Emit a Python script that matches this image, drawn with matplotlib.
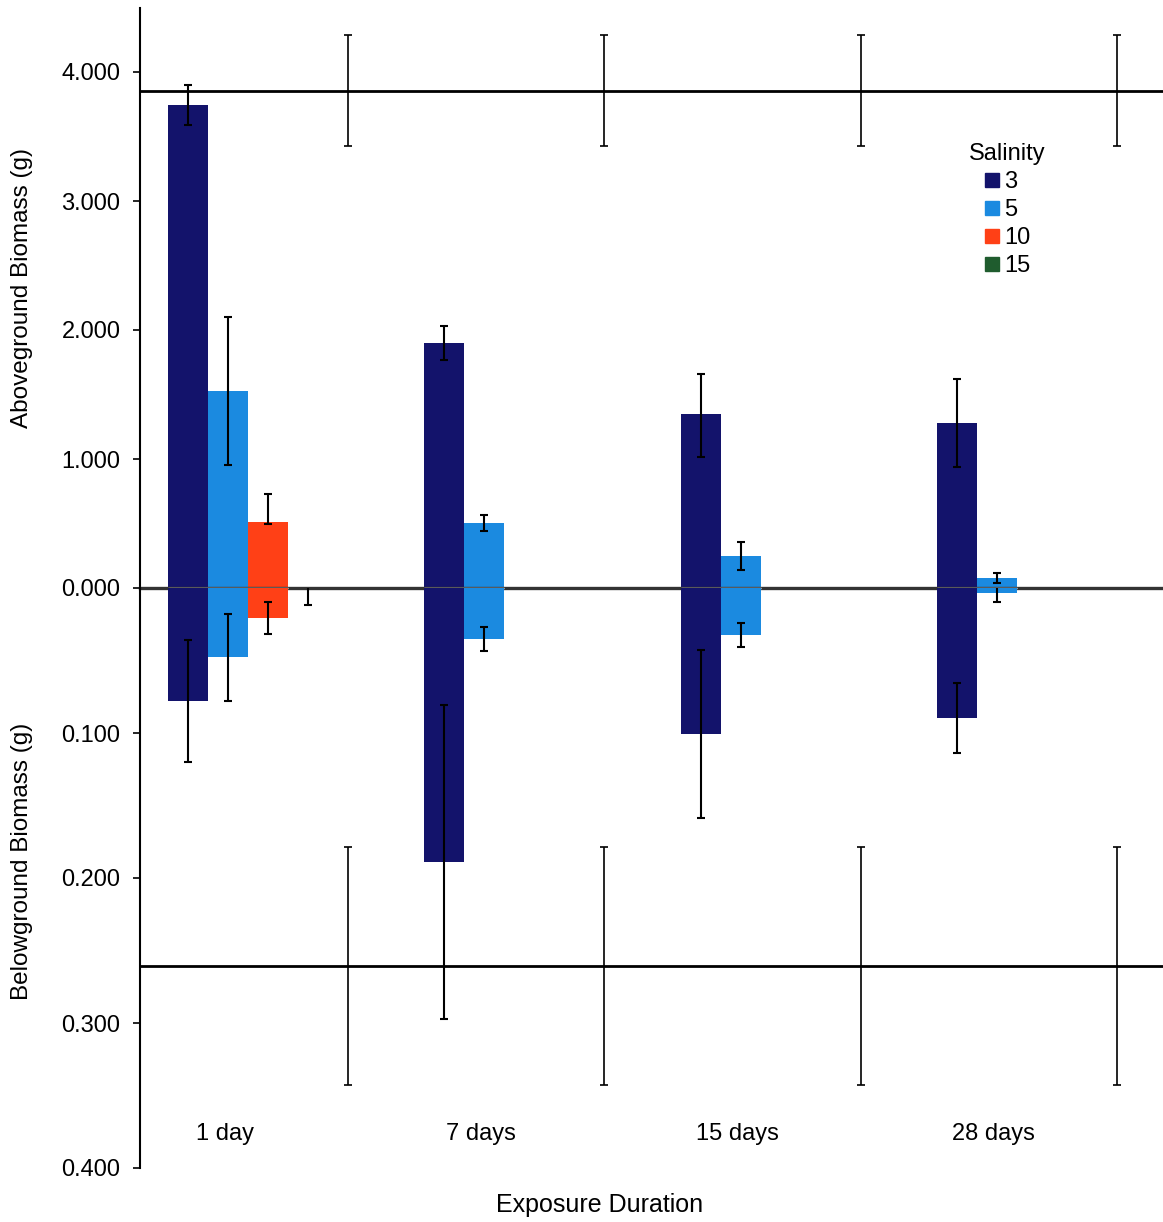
import matplotlib
matplotlib.use("Agg")
import matplotlib.pyplot as plt
from matplotlib.lines import Line2D
import numpy as np

plt.rcParams['font.family'] = ['Liberation Sans', 'DejaVu Sans']

# ---------------- data ----------------
durations = ["1 day", "7 days", "15 days", "28 days"]
salinities = ["3", "5", "10", "15"]
colors = ["#13136b", "#1b8ae0", "#ff4016", "#1f5c2e"]

# aboveground biomass (g): rows = salinity, cols = duration
above_mean = [
    [3.744, 1.899, 1.349, 1.279],
    [1.527, 0.504, 0.248, 0.078],
    [0.512, 0.0, 0.0, 0.0],
    [0.0, 0.0, 0.0, 0.0],
]
above_err_lo = [
    [0.155, 0.132, 0.33, 0.34],
    [0.57, 0.06, 0.11, 0.04],
    [0.015, 0.0, 0.0, 0.0],
    [0.0, 0.0, 0.0, 0.0],
]
above_err_hi = [
    [0.155, 0.132, 0.31, 0.34],
    [0.57, 0.06, 0.11, 0.04],
    [0.217, 0.0, 0.0, 0.0],
    [0.0, 0.0, 0.0, 0.0],
]
# belowground biomass (g)
below_mean = [
    [0.0779, 0.189, 0.1007, 0.0897],
    [0.0476, 0.0352, 0.0324, 0.0034],
    [0.0207, 0.0, 0.0, 0.0],
    [0.0, 0.0, 0.0, 0.0],
]
below_err = [
    [0.042, 0.108, 0.058, 0.024],
    [0.030, 0.008, 0.008, 0.006],
    [0.011, 0.0, 0.0, 0.0],
    [0.012, 0.0, 0.0, 0.0],
]
# control (reference) values
control_above = 3.853
control_above_err = 0.43
control_below = 0.2607
control_below_err = 0.082

# ---------------- figure ----------------
W, H = 1163, 1222
fig = plt.figure(figsize=(W / 100, H / 100), dpi=100)
x0 = 140 / W
axw = 1025 / W
ax_top = fig.add_axes([x0, (H - 588) / H, axw, 580 / H])
ax_bot = fig.add_axes([x0, (H - 1168) / H, axw, 580 / H])

x = np.arange(len(durations))
bw = 40 / 256
ekw = dict(fmt='none', ecolor='black', elinewidth=1.5, capsize=3, capthick=1.5, zorder=5)

for i, s in enumerate(salinities):
    pos = x + (i - 2) * bw
    ax_top.bar(pos, above_mean[i], width=bw, color=colors[i], zorder=2, label=s)
    ax_bot.bar(pos, below_mean[i], width=bw, color=colors[i], zorder=2)
    for j in range(len(durations)):
        if above_err_lo[i][j] + above_err_hi[i][j] > 0:
            ax_top.errorbar(pos[j], above_mean[i][j],
                            yerr=[[above_err_lo[i][j]], [above_err_hi[i][j]]], **ekw)
        if below_err[i][j] > 0:
            ax_bot.errorbar(pos[j], below_mean[i][j], yerr=below_err[i][j], **ekw)

# control line + error bars
cpos = x + 2 * bw
ax_top.axhline(control_above, color='black', lw=2, zorder=3)
ax_bot.axhline(control_below, color='black', lw=2, zorder=3)
ax_top.errorbar(cpos, [control_above] * len(x), yerr=control_above_err,
                fmt='none', ecolor='black', elinewidth=1.2, capsize=2.7, capthick=1.2, zorder=5)
ax_bot.errorbar(cpos, [control_below] * len(x), yerr=control_below_err,
                fmt='none', ecolor='black', elinewidth=1.2, capsize=2.7, capthick=1.2, zorder=5)

# zero line
ax_top.axhline(0, color='#333333', lw=2.4, zorder=4, clip_on=False)
for i in range(3):
    pos = x + (i - 2) * bw
    for j in range(len(x)):
        if above_mean[i][j] > 0 or below_mean[i][j] > 0:
            ax_top.plot([pos[j] - bw / 2, pos[j] + bw / 2], [0, 0], color='white',
                        lw=1.0, zorder=4.5, clip_on=False, solid_capstyle='butt')

for ax in (ax_top, ax_bot):
    ax.set_xlim(-0.5, len(x) - 0.5)
    ax.set_xticks([])
    for sp in ('top', 'right', 'bottom'):
        ax.spines[sp].set_visible(False)
    ax.spines['left'].set_linewidth(1.5)
    ax.tick_params(axis='y', direction='out', length=5, width=1.2, pad=9, labelsize=17)
    ax.patch.set_alpha(0)

ax_top.set_ylim(0, 580 / 129)
ax_top.set_yticks([0, 1, 2, 3, 4])
ax_top.set_yticklabels([f"{v:.3f}" for v in [0, 1, 2, 3, 4]])
ax_bot.set_ylim(0.4, 0)
ax_bot.set_yticks([0.1, 0.2, 0.3, 0.4])
ax_bot.set_yticklabels([f"{v:.3f}" for v in [0.1, 0.2, 0.3, 0.4]])

# category labels
for j, d in enumerate(durations):
    ax_bot.text(x[j] - 0.17, 0.3765, d, ha='center', va='center', fontsize=17)

fig.text(22 / W, 1 - 288 / H, "Aboveground Biomass (g)", rotation=90,
         ha='center', va='center', fontsize=17.5)
fig.text(22 / W, 1 - 861 / H, "Belowground Biomass (g)", rotation=90,
         ha='center', va='center', fontsize=17.5)
fig.text(600 / W, 1 - 1205 / H, "Exposure Duration", ha='center', va='center', fontsize=18)

handles = [Line2D([], [], marker='s', linestyle='none', markersize=10,
                  markerfacecolor=c, markeredgecolor=c) for c in colors]
leg = ax_top.legend(handles, salinities, title="Salinity", loc='center',
                    bbox_to_anchor=((1007 - 140) / 1025, (588 - 210) / 580),
                    frameon=False, fontsize=17, title_fontsize=17,
                    handlelength=0.7, handletextpad=0.2, labelspacing=0.25,
                    borderpad=0.2)

fig.savefig("out.png", dpi=100)
